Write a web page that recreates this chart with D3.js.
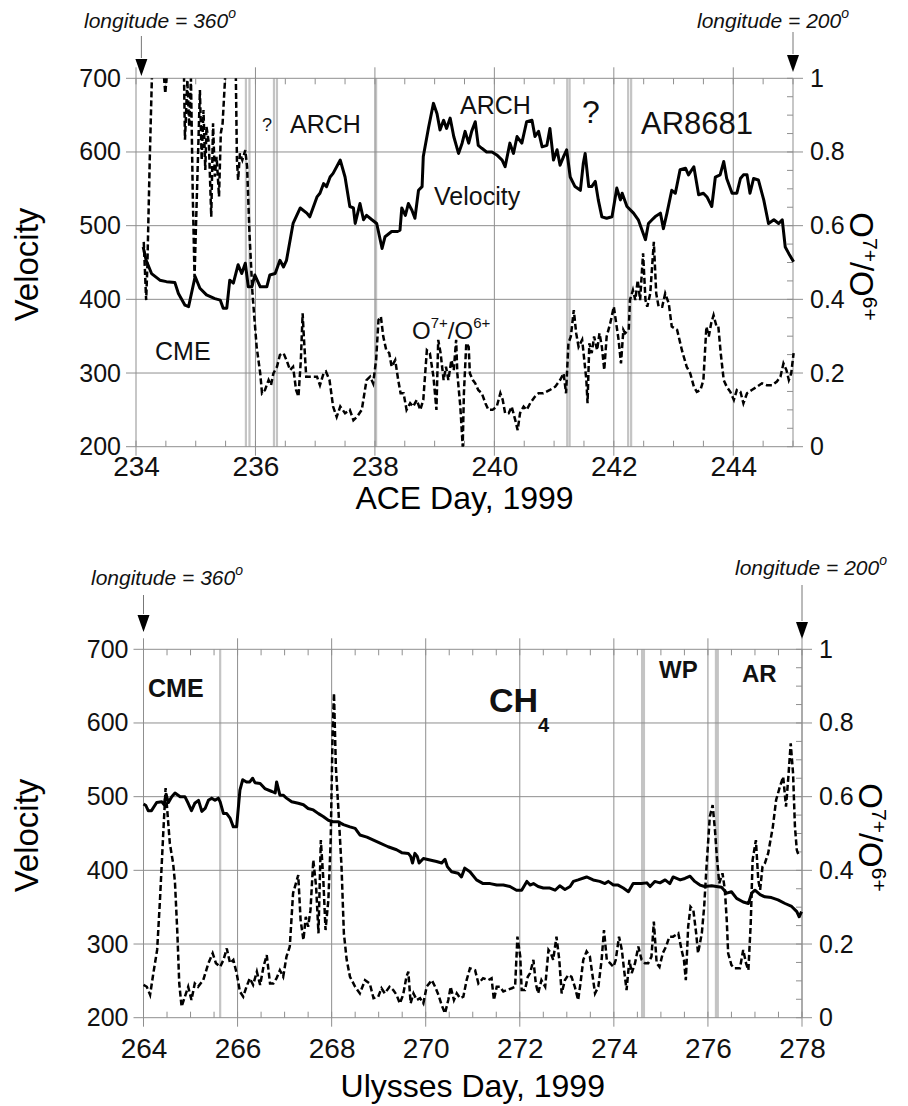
<!DOCTYPE html>
<html><head><meta charset="utf-8">
<script src="https://cdn.jsdelivr.net/npm/d3@7"></script>
<style>body{margin:0;background:#fff}svg{display:block}</style>
</head><body>
<svg id="c" width="908" height="1106"></svg>
<script>
// ---------- DATA ----------
const aceDayTicks = [234,236,238,240,242,244];
const ulyDayTicks = [264,266,268,270,272,274,276,278];
const velTicks = [200,300,400,500,600,700];
const ratioTicks = [0,0.2,0.4,0.6,0.8,1];
const aceEvents = [235.84,235.90,236.31,236.36,238.02,241.22,241.26,242.24,242.29];
const ulyEvents = [265.63,274.60,274.64,276.17,276.21];

const aceVelocity = [[234.12,471],[234.17,453],[234.26,435],[234.40,426],[234.51,424],[234.65,423],[234.71,408],[234.82,392],[234.88,390],[234.99,431],[235.07,415],[235.18,406],[235.32,401],[235.41,399],[235.46,388],[235.52,388],[235.57,426],[235.63,422],[235.71,447],[235.77,435],[235.83,449],[235.88,417],[235.94,417],[235.99,433],[236.08,417],[236.19,417],[236.24,433],[236.33,435],[236.41,453],[236.47,444],[236.52,453],[236.63,503],[236.75,524],[236.86,517],[236.91,512],[237.03,539],[237.08,544],[237.14,557],[237.19,553],[237.25,566],[237.30,571],[237.42,589],[237.50,566],[237.58,526],[237.64,524],[237.67,503],[237.75,530],[237.81,508],[237.86,514],[237.95,508],[238.03,503],[238.12,469],[238.17,485],[238.28,492],[238.37,492],[238.42,494],[238.45,524],[238.51,514],[238.56,530],[238.62,521],[238.67,510],[238.73,548],[238.79,553],[238.81,594],[238.90,634],[238.98,666],[239.04,652],[239.09,630],[239.15,643],[239.20,632],[239.26,646],[239.32,621],[239.40,598],[239.46,612],[239.51,628],[239.57,612],[239.62,628],[239.68,641],[239.73,609],[239.79,605],[239.87,600],[239.96,600],[240.04,596],[240.13,589],[240.18,580],[240.26,612],[240.32,598],[240.38,621],[240.46,612],[240.54,641],[240.63,643],[240.68,621],[240.74,628],[240.80,607],[240.88,609],[240.93,632],[240.99,589],[241.05,603],[241.10,582],[241.16,594],[241.21,603],[241.27,566],[241.35,553],[241.44,548],[241.49,585],[241.52,598],[241.58,553],[241.63,553],[241.69,560],[241.74,535],[241.80,512],[241.88,510],[241.97,512],[242.05,551],[242.11,535],[242.14,544],[242.22,526],[242.33,517],[242.41,508],[242.53,481],[242.58,503],[242.64,508],[242.69,512],[242.78,517],[242.83,496],[242.89,517],[242.97,548],[243.03,544],[243.11,576],[243.20,578],[243.25,569],[243.34,580],[243.42,542],[243.50,544],[243.56,539],[243.64,526],[243.70,566],[243.78,569],[243.84,587],[243.89,564],[243.98,544],[244.06,544],[244.12,564],[244.17,569],[244.23,569],[244.28,544],[244.34,564],[244.42,562],[244.51,535],[244.59,503],[244.68,508],[244.76,503],[244.82,508],[244.87,471],[244.93,462],[245.01,451]];

const aceRatio = [[234.13,0.556],[234.17,0.398],[234.19,0.489],[234.23,0.778],[234.29,1.15],[234.40,1.15],[234.49,0.959],[234.51,0.995],[234.57,1.15],[234.79,1.15],[234.82,0.833],[234.86,0.995],[234.89,0.869],[234.92,1.0],[234.95,0.688],[234.98,0.461],[235.02,0.688],[235.07,0.968],[235.10,0.778],[235.13,0.914],[235.16,0.751],[235.18,0.869],[235.22,0.824],[235.26,0.624],[235.29,0.878],[235.32,0.733],[235.35,0.787],[235.39,0.679],[235.42,0.851],[235.45,0.878],[235.49,0.995],[235.52,1.15],[235.66,1.15],[235.69,0.778],[235.71,0.724],[235.74,0.796],[235.78,0.778],[235.83,0.805],[235.86,0.760],[235.90,0.579],[235.95,0.416],[236.02,0.271],[236.08,0.199],[236.11,0.145],[236.16,0.154],[236.22,0.181],[236.26,0.167],[236.30,0.199],[236.36,0.217],[236.41,0.249],[236.47,0.254],[236.52,0.235],[236.58,0.208],[236.63,0.217],[236.68,0.154],[236.72,0.136],[236.76,0.235],[236.79,0.362],[236.81,0.299],[236.85,0.190],[236.91,0.190],[237.03,0.190],[237.08,0.167],[237.14,0.199],[237.18,0.204],[237.24,0.181],[237.30,0.109],[237.36,0.081],[237.42,0.109],[237.50,0.091],[237.58,0.100],[237.64,0.072],[237.70,0.081],[237.78,0.100],[237.86,0.181],[237.92,0.190],[237.97,0.172],[238.02,0.235],[238.06,0.344],[238.10,0.353],[238.14,0.299],[238.19,0.262],[238.24,0.254],[238.28,0.217],[238.34,0.235],[238.39,0.181],[238.43,0.145],[238.48,0.145],[238.53,0.100],[238.59,0.118],[238.64,0.109],[238.70,0.127],[238.76,0.100],[238.81,0.127],[238.87,0.262],[238.92,0.254],[238.98,0.190],[239.03,0.100],[239.06,0.290],[239.10,0.254],[239.15,0.181],[239.19,0.217],[239.23,0.181],[239.28,0.235],[239.32,0.208],[239.36,0.290],[239.38,0.199],[239.43,0.109],[239.47,0.000],[239.49,0.145],[239.53,0.281],[239.57,0.271],[239.59,0.199],[239.64,0.181],[239.68,0.172],[239.73,0.154],[239.79,0.145],[239.85,0.118],[239.90,0.100],[239.97,0.100],[240.04,0.109],[240.10,0.145],[240.14,0.127],[240.18,0.091],[240.24,0.091],[240.29,0.109],[240.35,0.072],[240.39,0.045],[240.43,0.091],[240.49,0.109],[240.54,0.100],[240.60,0.118],[240.68,0.136],[240.74,0.145],[240.82,0.145],[240.93,0.154],[241.02,0.163],[241.10,0.181],[241.16,0.199],[241.20,0.145],[241.24,0.281],[241.28,0.299],[241.33,0.371],[241.37,0.308],[241.41,0.271],[241.47,0.290],[241.50,0.244],[241.54,0.181],[241.56,0.118],[241.59,0.281],[241.63,0.254],[241.67,0.299],[241.72,0.262],[241.76,0.308],[241.80,0.271],[241.84,0.208],[241.88,0.299],[241.94,0.335],[242.00,0.380],[242.04,0.335],[242.08,0.290],[242.12,0.226],[242.16,0.317],[242.19,0.308],[242.25,0.317],[242.27,0.398],[242.32,0.425],[242.36,0.398],[242.40,0.452],[242.44,0.398],[242.49,0.525],[242.53,0.398],[242.56,0.380],[242.61,0.416],[242.67,0.556],[242.71,0.416],[242.75,0.380],[242.81,0.380],[242.86,0.416],[242.92,0.389],[242.97,0.326],[243.06,0.317],[243.14,0.262],[243.22,0.217],[243.28,0.199],[243.34,0.163],[243.39,0.149],[243.45,0.154],[243.50,0.181],[243.55,0.326],[243.59,0.299],[243.63,0.335],[243.67,0.357],[243.72,0.326],[243.75,0.326],[243.79,0.254],[243.84,0.181],[243.89,0.163],[243.95,0.149],[244.01,0.127],[244.06,0.154],[244.12,0.149],[244.17,0.118],[244.23,0.145],[244.31,0.154],[244.40,0.163],[244.48,0.172],[244.56,0.167],[244.65,0.167],[244.73,0.177],[244.79,0.190],[244.84,0.226],[244.89,0.208],[244.93,0.181],[244.97,0.199],[245.01,0.254]];

const ulyVelocity = [[264.00,490],[264.05,488],[264.10,481],[264.17,481],[264.28,492],[264.39,493],[264.44,489],[264.48,503],[264.53,492],[264.60,500],[264.67,505],[264.78,500],[264.88,500],[264.95,491],[265.02,481],[265.09,491],[265.17,495],[265.24,480],[265.31,484],[265.38,495],[265.45,498],[265.52,495],[265.59,498],[265.63,493],[265.70,477],[265.77,477],[265.84,471],[265.91,459],[265.98,459],[266.05,509],[266.11,523],[266.19,520],[266.26,520],[266.32,525],[266.37,519],[266.48,518],[266.58,511],[266.73,507],[266.80,505],[266.83,520],[266.90,502],[266.97,502],[267.04,498],[267.15,493],[267.29,491],[267.40,489],[267.50,484],[267.61,482],[267.72,477],[267.82,473],[267.93,468],[268.03,466],[268.14,466],[268.25,462],[268.39,459],[268.50,457],[268.60,448],[268.75,445],[268.89,441],[269.03,437],[269.20,432],[269.38,428],[269.49,424],[269.63,423],[269.68,419],[269.72,410],[269.77,423],[269.82,419],[269.86,410],[269.95,416],[270.09,414],[270.23,412],[270.34,410],[270.41,415],[270.46,405],[270.55,398],[270.69,396],[270.76,391],[270.83,403],[270.94,398],[271.08,387],[271.22,382],[271.37,382],[271.51,380],[271.65,380],[271.79,378],[271.93,373],[272.04,373],[272.15,385],[272.22,380],[272.29,382],[272.39,378],[272.50,376],[272.64,376],[272.75,373],[272.85,379],[272.96,374],[273.07,378],[273.14,385],[273.24,387],[273.42,391],[273.56,387],[273.70,385],[273.81,382],[273.88,385],[273.99,380],[274.09,380],[274.20,376],[274.31,371],[274.41,382],[274.59,382],[274.70,383],[274.77,378],[274.87,385],[274.98,383],[275.09,387],[275.19,382],[275.26,391],[275.41,387],[275.51,389],[275.62,392],[275.72,385],[275.83,380],[275.93,378],[276.08,379],[276.18,378],[276.29,377],[276.40,369],[276.50,371],[276.61,362],[276.75,357],[276.86,355],[276.93,369],[277.00,373],[277.11,367],[277.21,364],[277.35,363],[277.49,360],[277.64,355],[277.78,351],[277.89,344],[277.94,337],[277.99,344]];

const ulyRatio = [[264.00,0.089],[264.07,0.084],[264.14,0.062],[264.21,0.121],[264.29,0.184],[264.35,0.319],[264.42,0.501],[264.47,0.623],[264.51,0.555],[264.56,0.473],[264.63,0.419],[264.67,0.365],[264.72,0.229],[264.76,0.093],[264.81,0.030],[264.88,0.057],[264.95,0.084],[265.02,0.048],[265.09,0.093],[265.16,0.084],[265.27,0.102],[265.38,0.148],[265.47,0.175],[265.54,0.148],[265.63,0.138],[265.70,0.157],[265.77,0.188],[265.84,0.148],[265.91,0.157],[265.98,0.121],[266.05,0.071],[266.12,0.057],[266.19,0.084],[266.26,0.107],[266.33,0.089],[266.41,0.125],[266.48,0.089],[266.55,0.138],[266.62,0.170],[266.69,0.093],[266.76,0.093],[266.83,0.107],[266.90,0.129],[266.97,0.111],[267.04,0.166],[267.11,0.193],[267.18,0.338],[267.29,0.387],[267.34,0.265],[267.40,0.211],[267.45,0.274],[267.50,0.247],[267.55,0.292],[267.61,0.428],[267.67,0.356],[267.72,0.229],[267.77,0.482],[267.82,0.383],[267.87,0.238],[267.93,0.319],[267.98,0.482],[268.02,0.772],[268.05,0.881],[268.09,0.680],[268.14,0.573],[268.21,0.410],[268.26,0.229],[268.32,0.157],[268.39,0.111],[268.50,0.084],[268.60,0.066],[268.71,0.102],[268.81,0.093],[268.89,0.053],[268.99,0.057],[269.06,0.080],[269.13,0.066],[269.23,0.084],[269.31,0.075],[269.38,0.062],[269.45,0.039],[269.52,0.062],[269.59,0.111],[269.63,0.125],[269.68,0.039],[269.74,0.066],[269.81,0.048],[269.88,0.053],[269.95,0.039],[270.02,0.084],[270.13,0.102],[270.20,0.084],[270.27,0.062],[270.34,0.034],[270.41,0.012],[270.48,0.048],[270.53,0.084],[270.60,0.048],[270.66,0.066],[270.73,0.053],[270.80,0.057],[270.87,0.102],[270.94,0.134],[271.05,0.129],[271.12,0.093],[271.22,0.107],[271.33,0.102],[271.40,0.107],[271.45,0.048],[271.51,0.084],[271.58,0.084],[271.65,0.071],[271.72,0.075],[271.83,0.080],[271.90,0.084],[271.95,0.220],[272.01,0.166],[272.04,0.075],[272.11,0.075],[272.17,0.111],[272.22,0.121],[272.29,0.157],[272.34,0.093],[272.39,0.066],[272.46,0.102],[272.54,0.084],[272.61,0.184],[272.66,0.175],[272.71,0.157],[272.78,0.220],[272.84,0.157],[272.89,0.066],[272.96,0.102],[273.03,0.116],[273.10,0.111],[273.17,0.084],[273.24,0.048],[273.29,0.093],[273.35,0.157],[273.42,0.180],[273.49,0.166],[273.60,0.066],[273.67,0.084],[273.74,0.157],[273.79,0.238],[273.85,0.157],[273.92,0.148],[273.99,0.138],[274.04,0.157],[274.11,0.220],[274.17,0.184],[274.21,0.138],[274.27,0.075],[274.33,0.157],[274.38,0.121],[274.45,0.148],[274.52,0.193],[274.59,0.157],[274.66,0.148],[274.73,0.148],[274.80,0.166],[274.85,0.261],[274.91,0.148],[274.97,0.138],[275.04,0.175],[275.11,0.193],[275.18,0.220],[275.26,0.220],[275.37,0.229],[275.44,0.184],[275.49,0.157],[275.53,0.102],[275.58,0.247],[275.63,0.301],[275.69,0.292],[275.75,0.229],[275.79,0.175],[275.87,0.229],[275.92,0.301],[275.97,0.410],[276.04,0.546],[276.10,0.577],[276.15,0.509],[276.19,0.437],[276.24,0.365],[276.31,0.392],[276.36,0.347],[276.40,0.265],[276.43,0.175],[276.50,0.143],[276.57,0.134],[276.68,0.134],[276.75,0.184],[276.81,0.148],[276.86,0.129],[276.91,0.256],[276.95,0.428],[277.02,0.482],[277.07,0.374],[277.11,0.347],[277.16,0.410],[277.21,0.419],[277.28,0.446],[277.38,0.518],[277.45,0.591],[277.53,0.627],[277.60,0.654],[277.66,0.573],[277.71,0.654],[277.76,0.745],[277.81,0.663],[277.85,0.518],[277.89,0.455],[277.94,0.437]];

// ---------- DRAWING ----------
const svg = d3.select('#c');
const GRID = '#8f8f8f';
const EVT = '#c4c4c4';
const NUMFONT = "'Liberation Sans Narrow','Liberation Sans',Arial,sans-serif";
const FONT = "'Liberation Sans',Arial,Helvetica,sans-serif";

function panel(p, idx) {
  const g = svg.append('g');
  const x = d3.scaleLinear().domain(p.xDomain).range([p.left, p.right]);
  const yV = d3.scaleLinear().domain([200,700]).range([p.bottom, p.top]);
  const yR = d3.scaleLinear().domain([0,1]).range([p.bottom, p.top]);

  // event lines (light gray)
  g.append('g').selectAll('line').data(p.events).join('line')
    .attr('x1', d=>x(d)).attr('x2', d=>x(d)).attr('y1', p.top).attr('y2', p.bottom)
    .attr('stroke', EVT).attr('stroke-width', 2.2);

  // horizontal gridlines
  g.append('g').selectAll('line').data(velTicks).join('line')
    .attr('x1', p.left-10).attr('x2', p.right+10)
    .attr('y1', d=>yV(d)).attr('y2', d=>yV(d))
    .attr('stroke', GRID).attr('stroke-width', 1);
  // vertical gridlines (major day ticks)
  g.append('g').selectAll('line').data(p.dayTicks).join('line')
    .attr('x1', d=>x(d)).attr('x2', d=>x(d)).attr('y1', p.top-11).attr('y2', p.bottom+9)
    .attr('stroke', GRID).attr('stroke-width', 1);
  // right axis line
  g.append('line').attr('x1', p.right).attr('x2', p.right).attr('y1', p.top).attr('y2', p.bottom)
    .attr('stroke', GRID).attr('stroke-width', 1);
  // minor x ticks every half day, top and bottom
  const minor = d3.range(p.xDomain[0], p.xDomain[1]+0.01, 0.5);
  g.append('g').selectAll('line').data(minor).join('line')
    .attr('x1', d=>x(d)).attr('x2', d=>x(d)).attr('y1', p.bottom).attr('y2', p.bottom-6)
    .attr('stroke', GRID);
  g.append('g').selectAll('line').data(minor).join('line')
    .attr('x1', d=>x(d)).attr('x2', d=>x(d)).attr('y1', p.top).attr('y2', p.top+6)
    .attr('stroke', GRID);
  // right minor ticks
  const rminor = d3.range(0, 1.001, 0.05);
  g.append('g').selectAll('line').data(rminor).join('line')
    .attr('x1', p.right-6).attr('x2', p.right).attr('y1', d=>yR(d)).attr('y2', d=>yR(d))
    .attr('stroke', GRID);

  // axes labels via d3 axis generators
  const styleAx = (sel, size, fam) => {
    sel.select('.domain').remove();
    sel.selectAll('.tick line').remove();
    sel.selectAll('text').attr('font-size', size).attr('font-family', fam).attr('fill', '#111');
  };
  g.append('g').attr('transform', `translate(${p.left-15},0)`)
    .call(d3.axisLeft(yV).tickValues(velTicks).tickSize(0).tickPadding(0).tickFormat(d3.format('d')))
    .call(s=>styleAx(s, 25, FONT));
  g.append('g').attr('transform', `translate(${p.right+17},0)`)
    .call(d3.axisRight(yR).tickValues(ratioTicks).tickSize(0).tickPadding(0).tickFormat(d=>d===0?'0':d===1?'1':d3.format('.1f')(d)))
    .call(s=>styleAx(s, 25, FONT));
  g.append('g').attr('transform', `translate(0,${p.bottom+p.xLabOff})`)
    .call(d3.axisBottom(x).tickValues(p.dayTicks).tickSize(0).tickPadding(0).tickFormat(d3.format('d')))
    .call(s=>styleAx(s, 28, NUMFONT));

  // clip
  const cid = 'clip'+idx;
  svg.append('clipPath').attr('id', cid).append('rect')
    .attr('x', p.left-3).attr('y', p.top).attr('width', p.right-p.left+6).attr('height', p.bottom-p.top+3);

  const lineR = d3.line().x(d=>x(d[0])).y(d=>yR(d[1]));
  const lineV = d3.line().x(d=>x(d[0])).y(d=>yV(d[1]));
  g.append('path').datum(p.ratio).attr('d', lineR).attr('clip-path', `url(#${cid})`)
    .attr('fill','none').attr('stroke','#000').attr('stroke-width',2.5).attr('stroke-dasharray','6,3');
  g.append('path').datum(p.vel).attr('d', lineV).attr('clip-path', `url(#${cid})`)
    .attr('fill','none').attr('stroke','#000').attr('stroke-width',3).attr('stroke-linejoin','round');

  // axis titles
  g.append('text').attr('transform', `translate(${p.velTitleX},${(p.top+p.bottom)/2 + 2}) rotate(-90)`)
    .attr('text-anchor','middle').attr('font-family', FONT).attr('font-size', 33).text('Velocity');
  const rt = g.append('text').attr('transform', `translate(${p.ratioTitleX},${(p.top+p.bottom)/2 + 4}) rotate(90)`)
    .attr('text-anchor','middle').attr('font-family', FONT).attr('font-size', 33);
  rt.append('tspan').text('O');
  rt.append('tspan').attr('font-size', 21).attr('dy', -13).text('7+');
  rt.append('tspan').attr('dy', 13).text('/O');
  rt.append('tspan').attr('font-size', 21).attr('dy', -13).text('6+');
  g.append('text').attr('x', (p.left+p.right)/2).attr('y', p.xTitleY)
    .attr('text-anchor','middle').attr('font-family', FONT).attr('font-size', 32).text(p.xTitle);

  // longitude markers
  const lon = (d, label, tx, ty, a1, a2) => {
    const t = g.append('text').attr('x', tx).attr('y', ty).attr('text-anchor','middle')
      .attr('font-family', FONT).attr('font-size', 21).attr('font-style','italic').attr('fill','#111');
    t.append('tspan').text('longitude = ' + label);
    t.append('tspan').attr('font-size', 14).attr('dy', -10).text('o');
    const ax = x(d);
    g.append('line').attr('x1', ax).attr('x2', ax).attr('y1', a1).attr('y2', a2-2)
      .attr('stroke', '#777').attr('stroke-width', 1);
    g.append('path').attr('d', `M${ax-6},${a2-1}L${ax+6},${a2-1}L${ax},${a2+16}Z`).attr('fill','#000');
  };
  lon(p.xDomain[0] + p.lonShift, '360', p.lonL[0], p.lonL[1], p.lonL[2], p.lonL[3]);
  lon(p.xDomain[1], '200', p.lonR[0], p.lonR[1], p.lonR[2], p.lonR[3]);

  // annotations
  p.notes.forEach(n => {
    const t = g.append('text').attr('x', n.x).attr('y', n.y).attr('font-family', FONT)
      .attr('font-size', n.s).attr('font-weight', n.b ? 'bold' : 'normal').attr('fill','#111');
    n.parts.forEach(pt => {
      const ts = t.append('tspan').text(pt.t);
      if (pt.fs) ts.attr('font-size', pt.fs);
      if (pt.dy) ts.attr('dy', pt.dy);
    });
  });
}

panel({
  xDomain:[234,245], left:136, right:793, top:78.3, bottom:446.7, xLabOff:9, lonShift:0.09,
  dayTicks: aceDayTicks, events: aceEvents, vel: aceVelocity, ratio: aceRatio,
  velTitleX: 38, ratioTitleX: 850, xTitle: 'ACE Day, 1999', xTitleY: 509,
  lonL:[160, 28, 36, 60], lonR:[773, 28, 32, 56],
  notes: [
    {x:262, y:131, s:18, parts:[{t:'?'}]},
    {x:290, y:133, s:25, parts:[{t:'ARCH'}]},
    {x:460, y:114, s:25, parts:[{t:'ARCH'}]},
    {x:582, y:123, s:32, parts:[{t:'?'}]},
    {x:641, y:134, s:31, parts:[{t:'AR8681'}]},
    {x:434, y:205, s:25, parts:[{t:'Velocity'}]},
    {x:155, y:360, s:25, parts:[{t:'CME'}]},
    {x:412, y:339, s:24, parts:[{t:'O'},{t:'7+',fs:15,dy:-11},{t:'/O',dy:11},{t:'6+',fs:15,dy:-11}]}
  ]
}, 0);

panel({
  xDomain:[264,278], left:143.5, right:802, top:649.3, bottom:1017.7, xLabOff:20, lonShift:0,
  dayTicks: ulyDayTicks, events: ulyEvents, vel: ulyVelocity, ratio: ulyRatio,
  velTitleX: 38, ratioTitleX: 859, xTitle: 'Ulysses Day, 1999', xTitleY: 1097,
  lonL:[167, 585, 595, 616], lonR:[811, 575, 585, 623],
  notes: [
    {x:148, y:697, s:25, b:true, parts:[{t:'CME'}]},
    {x:489, y:712, s:34, b:true, parts:[{t:'CH'},{t:'4',fs:20,dy:20}]},
    {x:659, y:678, s:24, b:true, parts:[{t:'WP'}]},
    {x:742, y:682, s:24, b:true, parts:[{t:'AR'}]}
  ]
}, 1);
</script>
</body></html>
